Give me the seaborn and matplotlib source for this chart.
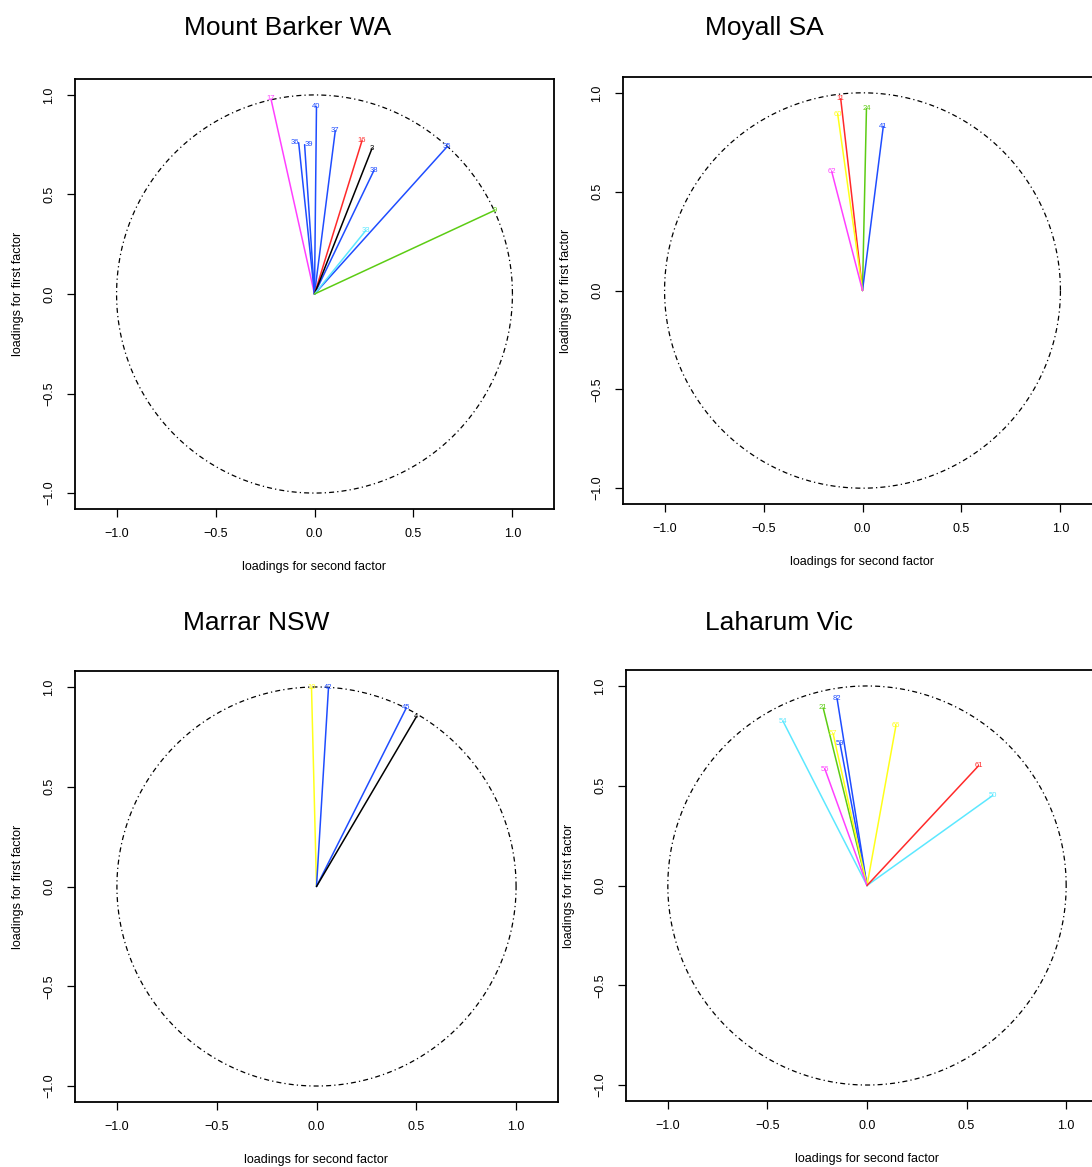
import numpy as np
import pandas as pd
import matplotlib
matplotlib.use("Agg")
import matplotlib.pyplot as plt
import seaborn as sns

# panel titles
titles = ["Mount Barker WA", "Moyall SA", "Marrar NSW", "Laharum Vic"]

# loadings: second factor (x), first factor (y)
mb_labels = ["17", "40", "36", "39", "37", "16", "3", "38", "35", "33", "9"]
mb_second = [-0.22, 0.01, -0.08, -0.05, 0.105, 0.24, 0.29, 0.30, 0.67, 0.26, 0.91]
mb_first = [0.98, 0.94, 0.76, 0.75, 0.82, 0.77, 0.73, 0.62, 0.74, 0.32, 0.42]
mb_colors = ["magenta", "blue", "blue", "blue", "blue", "red", "black", "blue", "blue", "cyan", "green"]

mo_labels = ["11", "24", "41", "60", "62"]
mo_second = [-0.11, 0.02, 0.105, -0.125, -0.155]
mo_first = [0.97, 0.92, 0.83, 0.89, 0.60]
mo_colors = ["red", "green", "blue", "yellow", "magenta"]

ma_labels = ["10", "42", "45", "4"]
ma_second = [-0.025, 0.06, 0.45, 0.50]
ma_first = [0.995, 0.995, 0.895, 0.85]
ma_colors = ["yellow", "blue", "blue", "black"]

la_labels = ["82", "21", "57", "54", "59", "56", "66", "61", "50"]
la_second = [-0.15, -0.22, -0.17, -0.42, -0.135, -0.21, 0.145, 0.56, 0.63]
la_first = [0.935, 0.89, 0.76, 0.82, 0.71, 0.58, 0.80, 0.60, 0.45]
la_colors = ["blue", "green", "yellow", "cyan", "blue", "magenta", "yellow", "red", "cyan"]

ticks = [-1.0, -0.5, 0.0, 0.5, 1.0]
tick_text = ["\u22121.0", "\u22120.5", "0.0", "0.5", "1.0"]

palette = {
    "blue": "#1f4dff",
    "red": "#ff2a2a",
    "black": "#000000",
    "green": "#5ccc14",
    "cyan": "#5ce8ff",
    "magenta": "#ff40ff",
    "yellow": "#ffff1a",
}

# labels that sit on top of a neighbour get pushed to one side
label_ha = {"36": "right", "39": "left"}

W, H = 1092, 1167
# axes rectangles in pixels: left, top, width, height
rects = [(75, 79, 479, 430), (623, 77, 479, 427), (75, 671, 483, 431), (626, 670, 482, 431)]
title_pos = [(288, 28), (764, 28), (256, 623), (779, 623)]

panels = [
    (mb_labels, mb_second, mb_first, mb_colors),
    (mo_labels, mo_second, mo_first, mo_colors),
    (ma_labels, ma_second, ma_first, ma_colors),
    (la_labels, la_second, la_first, la_colors),
]

sns.set_theme(style="ticks")
plt.rcParams["font.family"] = ["Liberation Sans", "DejaVu Sans"]
plt.rcParams["text.color"] = "black"
plt.rcParams["axes.labelcolor"] = "black"

fig = plt.figure(figsize=(W / 100, H / 100), dpi=100)

theta = np.linspace(0, 2 * np.pi, 400)
circle = pd.DataFrame({"x": np.cos(theta), "y": np.sin(theta)})

for (left, top, w, h), (labels, xs, ys, cols), title, (tx, ty) in zip(rects, panels, titles, title_pos):
    ax = fig.add_axes([left / W, 1 - (top + h) / H, w / W, h / H])

    sns.lineplot(data=circle, x="x", y="y", sort=False, color="black",
                 lw=0.9, ax=ax, estimator=None)
    ax.lines[-1].set_dashes([4, 2.5, 1, 2.5])

    seg = pd.DataFrame({
        "label": np.repeat(labels, 2),
        "x": np.ravel([[0.0, v] for v in xs]),
        "y": np.ravel([[0.0, v] for v in ys]),
        "col": np.repeat(cols, 2),
    })
    sns.lineplot(data=seg, x="x", y="y", units="label", hue="col", palette=palette,
                 estimator=None, sort=False, lw=1.1, legend=False, ax=ax)
    for lab, x, y, c in zip(labels, xs, ys, cols):
        ax.text(x, y, lab, color=palette[c], fontsize=5.5,
                ha=label_ha.get(lab, "center"), va="center")

    ax.set_xlim(-1.21, 1.21)
    ax.set_ylim(-1.08, 1.08)
    ax.set_xticks(ticks)
    ax.set_xticklabels(tick_text)
    ax.set_yticks(ticks)
    ax.set_yticklabels(tick_text, rotation=90, va="center")
    ax.tick_params(direction="out", length=6, width=0.9, labelsize=9, pad=8, colors="black")
    for s in ax.spines.values():
        s.set_visible(True)
        s.set_linewidth(1.3)
        s.set_color("black")
    ax.set_xlabel("")
    ax.set_ylabel("")
    ax.text(0.5, -58 / h, "loadings for second factor", transform=ax.transAxes,
            ha="center", va="center", fontsize=9, color="black")
    ax.text(-57 / w, 0.5, "loadings for first factor", transform=ax.transAxes,
            ha="center", va="center", rotation=90, fontsize=9, color="black")

    fig.text(tx / W, 1 - ty / H, title, ha="center", va="center", fontsize=19, color="black")

fig.savefig("out.png", dpi=100)
